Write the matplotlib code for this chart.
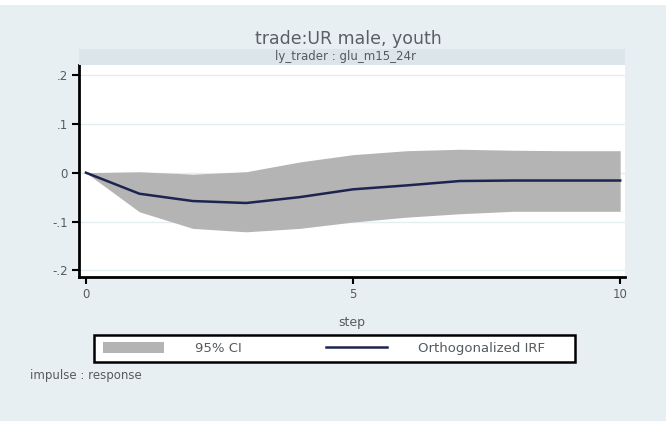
import matplotlib
matplotlib.use("Agg")
import matplotlib.pyplot as plt
from matplotlib.patches import Rectangle, Patch
from matplotlib.lines import Line2D

# Orthogonalized impulse response and its 95% confidence band
steps = [0, 1, 2, 3, 4, 5, 6, 7, 8, 9, 10]
irf = [0.0, -0.043, -0.058, -0.062, -0.050, -0.034, -0.026, -0.017, -0.016, -0.016, -0.016]
ci_low = [0.0, -0.080, -0.114, -0.121, -0.114, -0.101, -0.091, -0.084, -0.079, -0.079, -0.079]
ci_high = [0.0, 0.002, -0.003, 0.002, 0.022, 0.037, 0.045, 0.048, 0.046, 0.045, 0.045]
xticks = [0, 5, 10]
yticks = [-0.2, -0.1, 0.0, 0.1, 0.2]
ytick_labels = ["-.2", "-.1", "0", ".1", ".2"]

plt.rcParams["font.family"] = ["DejaVu Sans"]

BG = "#e8eff2"
STRIP = "#dbe5eb"
BAND = "#b4b4b4"
LINE = "#1e2450"
GRAY_TXT = "#555a5e"

W, H = 666, 421
fig = plt.figure(figsize=(W / 100, H / 100), dpi=100, facecolor=BG)

# white band at the very top of the page
fig.patches.append(Rectangle((0, 1 - 5 / H), 1, 5 / H, transform=fig.transFigure,
                             facecolor="white", edgecolor="none", zorder=0))

left, right, top, bottom = 79, 625, 65, 277
ax = fig.add_axes([left / W, 1 - bottom / H, (right - left) / W, (bottom - top) / H])
ax.set_facecolor("white")

ax.fill_between(steps, ci_low, ci_high, color=BAND, linewidth=0, zorder=2)
ax.plot(steps, irf, color=LINE, linewidth=1.8, zorder=3)

ax.set_xlim(-0.13, 10.09)
ax.set_ylim(-0.2135, 0.2205)
ax.set_xticks(xticks)
ax.set_xticklabels([str(v) for v in xticks])
ax.set_yticks(yticks)
ax.set_yticklabels(ytick_labels)
ax.grid(axis="y", color="#e6edf0", linewidth=1.0, zorder=1)
ax.set_axisbelow(True)

for s in ("top", "right"):
    ax.spines[s].set_visible(False)
for s in ("left", "bottom"):
    ax.spines[s].set_linewidth(2.0)
    ax.spines[s].set_color("black")
ax.tick_params(axis="both", direction="out", length=5, width=1.5, color="black",
               labelsize=8.5, labelcolor=GRAY_TXT, pad=3)
ax.set_xlabel("step", fontsize=9, color=GRAY_TXT, labelpad=11)

# header strip with the impulse/response pair
fig.patches.append(Rectangle((left / W, 1 - 65 / H), (right - left) / W, 16 / H,
                             transform=fig.transFigure, facecolor=STRIP,
                             edgecolor="none", zorder=1))
fig.text(346 / W, 1 - 56.5 / H, "ly_trader : glu_m15_24r", ha="center",
         va="center", fontsize=8.5, color=GRAY_TXT)
fig.text(348 / W, 1 - 39 / H, "trade:UR male, youth", ha="center", va="center",
         fontsize=12.5, color="#5a5f66")

# legend: boxed key below the plot
fig.patches.append(Rectangle((94 / W, 1 - 362 / H), 481 / W, 27 / H,
                             transform=fig.transFigure, facecolor="white",
                             edgecolor="black", linewidth=1.8, zorder=1))
fs = 9.5
em = fs * 100 / 72
handles = [Patch(facecolor=BAND, edgecolor="none"),
           Line2D([0], [0], color=LINE, linewidth=1.8)]
leg = fig.legend(handles, ["95% CI", "Orthogonalized IRF"], ncol=2,
                 loc="center left",
                 bbox_to_anchor=(103 / W, 1 - 348.5 / H),
                 fontsize=fs, frameon=False,
                 handlelength=61 / em, handleheight=0.9,
                 columnspacing=84 / em, handletextpad=31 / em,
                 borderpad=0.0, borderaxespad=0.0, labelcolor=GRAY_TXT)
leg.set_zorder(2)

fig.text(30 / W, 1 - 375 / H, "impulse : response", ha="left", va="center",
         fontsize=8.5, color=GRAY_TXT)

fig.savefig("out.png", dpi=100, facecolor=BG)
